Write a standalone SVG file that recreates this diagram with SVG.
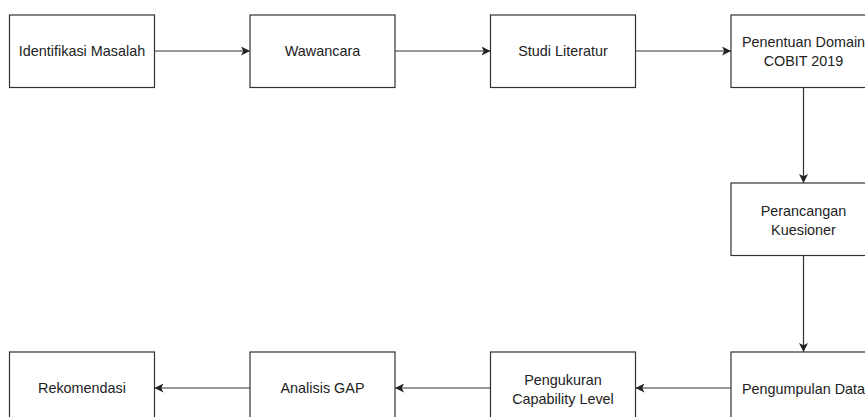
<svg xmlns="http://www.w3.org/2000/svg" width="865" height="417" viewBox="0 0 865 417">
<style>
.box{fill:#fff;stroke:#333;stroke-width:1.2}
.lbl{font-family:"Liberation Sans",Arial,sans-serif;font-size:14.4px;fill:#222;text-anchor:middle;dominant-baseline:central}
.edge{fill:none;stroke:#333;stroke-width:1.2}
</style>
<defs>
<marker id="arr" markerUnits="userSpaceOnUse" viewBox="0 0 10 10" refX="10" refY="5" markerWidth="9" markerHeight="9" orient="auto">
<path d="M0,0 L10,5 L0,10 L2.5,5 z" fill="#222"/>
</marker>
</defs>
<rect width="865" height="417" fill="#fff"/>
<g id="connectors">
<path class="edge" d="M154.5,51 H250" marker-end="url(#arr)"/>
<path class="edge" d="M395,51 H490.5" marker-end="url(#arr)"/>
<path class="edge" d="M635.5,51 H731" marker-end="url(#arr)"/>
<path class="edge" d="M803.5,87.5 V183" marker-end="url(#arr)"/>
<path class="edge" d="M803.5,255.5 V352" marker-end="url(#arr)"/>
<path class="edge" d="M731,388 H635.5" marker-end="url(#arr)"/>
<path class="edge" d="M490.5,388 H395" marker-end="url(#arr)"/>
<path class="edge" d="M250,388 H154.5" marker-end="url(#arr)"/>
</g>
<g id="n1"><rect class="box" x="9.5" y="15" width="145" height="72.5"/><text class="lbl" x="82" y="51">Identifikasi Masalah</text></g>
<g id="n2"><rect class="box" x="250" y="15" width="145" height="72.5"/><text class="lbl" x="322.5" y="51">Wawancara</text></g>
<g id="n3"><rect class="box" x="490.5" y="15" width="145" height="72.5"/><text class="lbl" x="563" y="51">Studi Literatur</text></g>
<g id="n4"><rect class="box" x="731" y="15" width="145" height="72.5"/><text class="lbl" x="803.5" y="42">Penentuan Domain</text><text class="lbl" x="803.5" y="60.5">COBIT 2019</text></g>
<g id="n5"><rect class="box" x="731" y="183" width="145" height="72.5"/><text class="lbl" x="803.5" y="211">Perancangan</text><text class="lbl" x="803.5" y="229.5">Kuesioner</text></g>
<g id="n6"><rect class="box" x="731" y="352" width="145" height="72.5"/><text class="lbl" x="803.5" y="388.5">Pengumpulan Data</text></g>
<g id="n7"><rect class="box" x="490.5" y="352" width="145" height="72.5"/><text class="lbl" x="563" y="380">Pengukuran</text><text class="lbl" x="563" y="398.5">Capability Level</text></g>
<g id="n8"><rect class="box" x="250" y="352" width="145" height="72.5"/><text class="lbl" x="322.5" y="388">Analisis GAP</text></g>
<g id="n9"><rect class="box" x="9.5" y="352" width="145" height="72.5"/><text class="lbl" x="82" y="388">Rekomendasi</text></g>
</svg>
